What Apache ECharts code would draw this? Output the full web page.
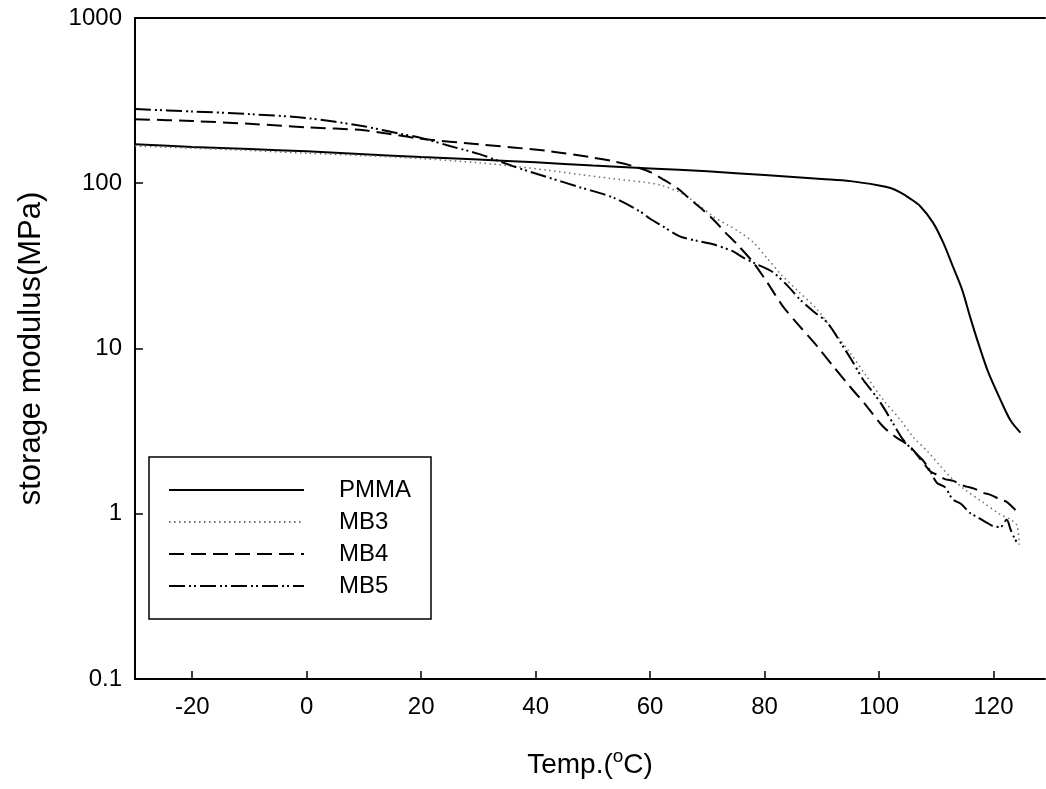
<!DOCTYPE html>
<html>
<head>
<meta charset="utf-8">
<title>storage modulus vs temperature</title>
<script src="https://cdn.jsdelivr.net/npm/echarts@6/dist/echarts.min.js"></script>
<style>
  html, body { margin: 0; padding: 0; background: #fff; }
  #chart { width: 1046px; height: 789px; }
</style>
</head>
<body>
<div id="chart"></div>
<script>
// Temperature (°C) and storage modulus (MPa) for each sample
const pmmaT = [-30, -20, -10, 0, 10, 20, 30, 40, 50, 60, 70, 80, 90, 95, 100, 102, 103.7, 105.5, 107.2, 109.4, 111.2, 112.9, 114.5, 115.9, 117.3, 119.1, 121.2, 122.9, 124.7];
const pmmaE = [172, 166, 161, 156, 150, 144, 139, 134, 128, 123, 118, 112, 106, 103, 97, 93.5, 88, 80.5, 72.6, 58, 43.9, 31.4, 22.8, 15.6, 10.9, 7.16, 4.91, 3.71, 3.1];

const mb3T = [-30, -20, -10, 0, 10, 20, 30, 36, 42, 47.7, 53, 59.4, 62, 65.2, 68, 71, 73.5, 75.7, 78, 80.5, 83.2, 86, 89.2, 92, 94.9, 97.8, 100.7, 103.7, 106, 108.4, 110.5, 112.4, 115, 118.2, 121, 123, 124.1, 124.5];
const mb3E = [168, 163, 158, 152, 147, 141, 133, 127, 120, 113, 107, 101, 97, 88, 76, 63, 56, 50.5, 44, 35, 27.3, 22, 17.2, 12.8, 9.46, 6.8, 4.91, 3.71, 2.9, 2.4, 1.98, 1.68, 1.4, 1.17, 1.0, 0.92, 0.85, 0.65];

const mb4T = [-30, -20, -10, 0, 10, 20, 30, 42, 50, 53.5, 57, 60, 62.2, 65, 67, 69, 71, 73, 75.2, 78, 80.5, 83.2, 86, 89.2, 92, 94.9, 97.8, 100.7, 103, 105.4, 107.7, 109, 110.2, 111.5, 113, 114.2, 115.3, 116.6, 118.2, 119.5, 121.2, 122.3, 123.4, 124.5];
const mb4E = [244, 238, 229, 218, 209, 186, 172, 157, 143, 136, 127, 117, 106, 92, 80, 70, 60.5, 51, 42.7, 33.2, 25, 18, 13.8, 10.3, 7.8, 5.89, 4.5, 3.37, 2.9, 2.55, 2.04, 1.8, 1.72, 1.62, 1.58, 1.5, 1.46, 1.42, 1.34, 1.3, 1.22, 1.18, 1.09, 1.0];

const mb5T = [-30, -20, -10, 0, 10, 16, 20, 25, 30.2, 36, 42, 47.7, 53.5, 58.2, 60, 62.2, 65.2, 68, 71, 74.5, 76.2, 78.5, 81.5, 84, 86.2, 88.5, 90.9, 93.7, 95.5, 97.2, 99, 100.7, 102.5, 104.2, 106, 107.7, 109, 110.1, 111.5, 112.9, 114.3, 115.9, 117.3, 118.9, 120, 121.2, 122.3, 123, 123.6, 124.3];
const mb5E = [281, 272, 262, 248, 221, 200, 188, 168, 150, 127, 109, 94.6, 82, 67.6, 61, 54.9, 47.7, 45, 42.7, 38.7, 35.6, 32.5, 28.9, 24, 19.8, 16.8, 14.4, 10.3, 8.2, 6.49, 5.4, 4.45, 3.5, 2.81, 2.4, 2.1, 1.8, 1.54, 1.45, 1.22, 1.15, 1.01, 0.95, 0.88, 0.84, 0.83, 0.92, 0.8, 0.72, 0.65];

const xTicks = [-20, 0, 20, 40, 60, 80, 100, 120];
const seriesNames = ['PMMA', 'MB3', 'MB4', 'MB5'];

const pairs = (xs, ys) => xs.map((x, i) => [x, ys[i]]);
const FONT = '"Liberation Sans", Arial, sans-serif';

const chart = echarts.init(document.getElementById('chart'), null, { renderer: 'canvas' });

const lineSeries = (name, xs, ys, lineStyle) => ({
  name,
  type: 'line',
  data: pairs(xs, ys),
  symbol: 'none',
  showSymbol: false,
  smooth: 0.3,
  lineStyle,
  itemStyle: { color: lineStyle.color },
  emphasis: { disabled: true },
  animation: false
});

chart.setOption({
  animation: false,
  grid: { left: 135, right: 1, top: 18, bottom: 110 },
  xAxis: [
    {
      type: 'value',
      min: -30,
      max: 129,
      name: '{a|Temp.(}{s|o}{a|C)}',
      nameLocation: 'middle',
      nameGap: 68,
      nameTextStyle: {
        rich: {
          a: { fontFamily: FONT, fontSize: 28, color: '#000', lineHeight: 36 },
          s: { fontFamily: FONT, fontSize: 19, color: '#000', verticalAlign: 'top', lineHeight: 36, padding: [0, 0, 14, 0] }
        }
      },
      axisLine: { show: true, onZero: false, lineStyle: { color: '#000', width: 2 } },
      axisTick: { show: true, inside: true, length: 8, lineStyle: { color: '#000', width: 1.5 }, customValues: xTicks },
      axisLabel: { fontFamily: FONT, fontSize: 24, color: '#000', margin: 16, customValues: xTicks },
      splitLine: { show: false }
    },
    {
      type: 'value',
      position: 'top',
      min: -30,
      max: 129,
      axisLine: { show: true, onZero: false, lineStyle: { color: '#000', width: 2 } },
      axisTick: { show: false },
      axisLabel: { show: false },
      splitLine: { show: false }
    }
  ],
  yAxis: {
    type: 'log',
    logBase: 10,
    min: 0.1,
    max: 1000,
    name: 'storage modulus(MPa)',
    nameLocation: 'middle',
    nameGap: 88,
    nameRotate: 90,
    nameTextStyle: { fontFamily: FONT, fontSize: 31, color: '#000' },
    axisLine: { show: true, onZero: false, lineStyle: { color: '#000', width: 2 } },
    axisTick: { show: true, inside: true, length: 8, lineStyle: { color: '#000', width: 1.5 } },
    axisLabel: {
      fontFamily: FONT, fontSize: 24, color: '#000', margin: 13,
      formatter: v => (v < 1 ? v.toFixed(1) : String(Math.round(v)))
    },
    minorTick: { show: false },
    splitLine: { show: false }
  },
  legend: {
    data: seriesNames,
    orient: 'vertical',
    left: 149,
    top: 457,
    itemWidth: 135,
    itemHeight: 24,
    itemGap: 8,
    padding: [21, 20, 21, 19],
    borderColor: '#000',
    borderWidth: 1.5,
    backgroundColor: '#fff',
    selectedMode: false,
    itemStyle: { opacity: 0 },
    textStyle: { fontFamily: FONT, fontSize: 24, color: '#000', padding: [0, 0, 0, 30] }
  },
  series: [
    lineSeries('PMMA', pmmaT, pmmaE, { color: '#000', width: 2, type: 'solid' }),
    lineSeries('MB3', mb3T, mb3E, { color: '#6e6e6e', width: 1.5, type: [1.5, 3.5] }),
    lineSeries('MB4', mb4T, mb4E, { color: '#000', width: 2, type: [15, 7] }),
    lineSeries('MB5', mb5T, mb5E, { color: '#000', width: 2, type: [16, 4, 2, 3, 2, 4] })
  ]
});
</script>
</body>
</html>
